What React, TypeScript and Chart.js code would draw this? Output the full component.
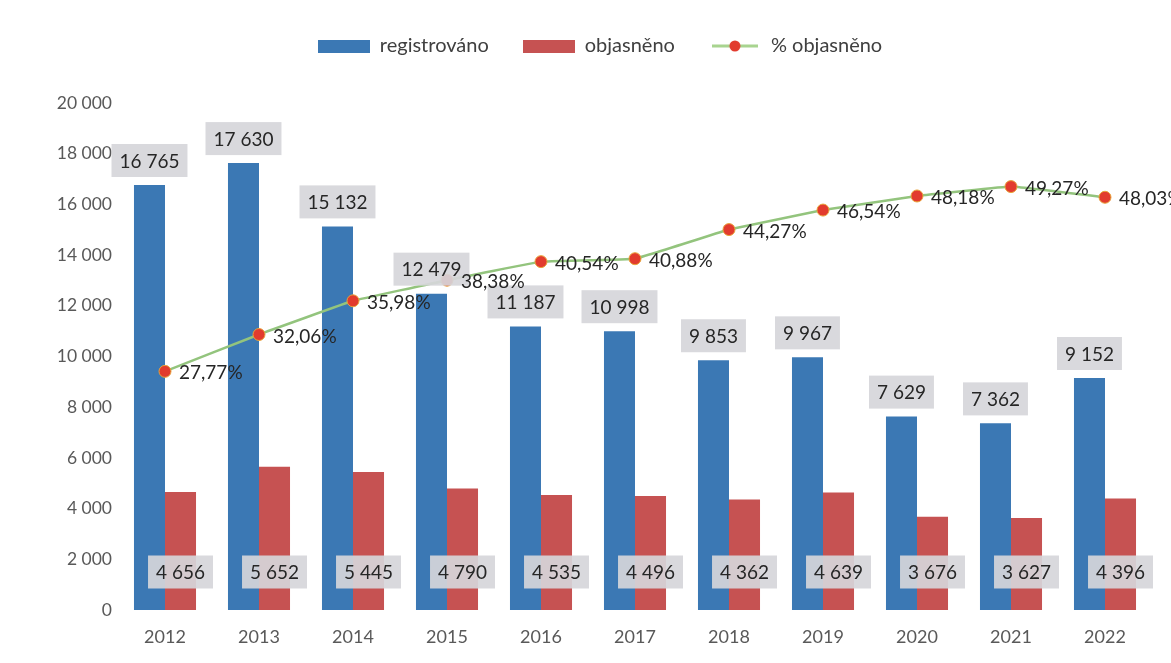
import React, { useEffect, useRef } from "react";
import { Chart, registerables } from "chart.js";

Chart.register(...registerables);

const years = ["2012", "2013", "2014", "2015", "2016", "2017", "2018", "2019", "2020", "2021", "2022"];
const registrovano = [16765, 17630, 15132, 12479, 11187, 10998, 9853, 9967, 7629, 7362, 9152];
const objasneno = [4656, 5652, 5445, 4790, 4535, 4496, 4362, 4639, 3676, 3627, 4396];
const procentoObjasneno = [27.77, 32.06, 35.98, 38.38, 40.54, 40.88, 44.27, 46.54, 48.18, 49.27, 48.03];
const seriesNames = ["registrováno", "objasněno", "% objasněno"];
const yMin = 0;
const yMax = 20000;
const yStep = 2000;
const pctMin = 0;
const pctMax = 59;

const FONT = "Lato, 'Open Sans', sans-serif";
const BLUE = "#3b78b4";
const RED = "#c65252";
const GREEN = "#93c47d";
const DOT = "#e23b2e";
const TEXT = "#262626";
const AXIS_TEXT = "#595959";
const LABEL_BG = "rgba(214,214,218,0.92)";

const fmtNum = (n: number) => String(n).replace(/\B(?=(\d{3})+(?!\d))/g, " ");
const fmtPct = (p: number) => p.toFixed(2).replace(".", ",") + "%";

function makeBox(color: string) {
  const c = document.createElement("canvas");
  c.width = 52;
  c.height = 13;
  const g = c.getContext("2d")!;
  g.fillStyle = color;
  g.fillRect(0, 0, 52, 13);
  return c;
}

function makeLineDot(lineColor: string, dotColor: string) {
  const c = document.createElement("canvas");
  c.width = 46;
  c.height = 14;
  const g = c.getContext("2d")!;
  g.strokeStyle = lineColor;
  g.lineWidth = 3;
  g.beginPath();
  g.moveTo(0, 7);
  g.lineTo(46, 7);
  g.stroke();
  g.fillStyle = dotColor;
  g.beginPath();
  g.arc(23, 7, 5.5, 0, Math.PI * 2);
  g.fill();
  return c;
}

const valueLabels = {
  id: "valueLabels",
  afterDatasetsDraw(chart: any) {
    const ctx = chart.ctx as CanvasRenderingContext2D;
    ctx.save();
    ctx.font = `19px ${FONT}`;
    ctx.textBaseline = "middle";
    const h = 33;
    chart.getDatasetMeta(0).data.forEach((bar: any, i: number) => {
      const text = fmtNum(registrovano[i]);
      const w = ctx.measureText(text).width + 16;
      const bottom = bar.y - 8;
      ctx.fillStyle = LABEL_BG;
      ctx.fillRect(bar.x - w / 2, bottom - h, w, h);
      ctx.fillStyle = TEXT;
      ctx.textAlign = "center";
      ctx.fillText(text, bar.x, bottom - h / 2 + 1);
    });
    chart.getDatasetMeta(1).data.forEach((bar: any, i: number) => {
      const text = fmtNum(objasneno[i]);
      const w = ctx.measureText(text).width + 16;
      const cy = bar.base - 38;
      ctx.fillStyle = LABEL_BG;
      ctx.fillRect(bar.x - w / 2, cy - h / 2, w, h);
      ctx.fillStyle = TEXT;
      ctx.textAlign = "center";
      ctx.fillText(text, bar.x, cy + 1);
    });
    chart.getDatasetMeta(2).data.forEach((pt: any, i: number) => {
      ctx.fillStyle = TEXT;
      ctx.textAlign = "left";
      ctx.fillText(fmtPct(procentoObjasneno[i]), pt.x + 14, pt.y + 2);
    });
    ctx.restore();
  },
};

const legendSpacing = {
  id: "legendSpacing",
  beforeLayout(chart: any) {
    const legend = chart.legend;
    if (!legend || legend._patched) return;
    const orig = legend.fit;
    legend.fit = function () {
      orig.call(this);
      this.height += 37;
    };
    legend._patched = true;
  },
  afterLayout(chart: any) {
    if (chart.legend) chart.legend.left += 48;
  },
};

export default function App() {
  const ref = useRef<HTMLCanvasElement | null>(null);

  useEffect(() => {
    if (!ref.current) return;
    const legendImgs = [makeBox(BLUE), makeBox(RED), makeLineDot("#a8d48f", DOT)];
    const yTicks: number[] = [];
    for (let v = yMin; v <= yMax; v += yStep) yTicks.push(v);

    const chart = new Chart(ref.current, {
      type: "bar",
      data: {
        labels: years,
        datasets: [
          {
            type: "bar",
            label: seriesNames[0],
            data: registrovano,
            backgroundColor: BLUE,
            categoryPercentage: 0.66,
            barPercentage: 1,
            order: 1,
            yAxisID: "y",
          },
          {
            type: "bar",
            label: seriesNames[1],
            data: objasneno,
            backgroundColor: RED,
            categoryPercentage: 0.66,
            barPercentage: 1,
            order: 1,
            yAxisID: "y",
          },
          {
            type: "line",
            label: seriesNames[2],
            data: procentoObjasneno,
            borderColor: GREEN,
            borderWidth: 2.5,
            backgroundColor: DOT,
            pointBackgroundColor: DOT,
            pointBorderColor: "#e8a33a",
            pointBorderWidth: 1,
            pointRadius: 6,
            tension: 0.05,
            order: 0,
            yAxisID: "y2",
          } as any,
        ],
      },
      options: {
        responsive: false,
        animation: false,
        layout: { padding: { top: 2, right: 19, bottom: 0, left: 0 } },
        plugins: {
          tooltip: { enabled: false },
          legend: {
            display: true,
            position: "top",
            labels: {
              usePointStyle: true,
              pointStyleWidth: 52,
              padding: 34,
              color: "#404040",
              font: { family: FONT, size: 20 },
              sort: (a: any, b: any) => a.datasetIndex - b.datasetIndex,
              generateLabels: (ch: any) => {
                const items = (Chart.defaults.plugins.legend.labels as any).generateLabels(ch);
                items.forEach((it: any) => {
                  it.pointStyle = legendImgs[it.datasetIndex];
                });
                return items;
              },
            },
          },
        },
        scales: {
          x: {
            grid: { display: false, drawTicks: false },
            border: { display: false },
            ticks: { color: AXIS_TEXT, font: { family: FONT, size: 18 }, padding: 16 },
            afterFit: (s: any) => {
              s.height = 53;
            },
          },
          y: {
            min: yMin,
            max: yMax,
            grid: { display: false, drawTicks: false },
            border: { display: false },
            afterBuildTicks: (s: any) => {
              s.ticks = yTicks.map((v) => ({ value: v }));
            },
            ticks: {
              color: AXIS_TEXT,
              font: { family: FONT, size: 17.5 },
              padding: 6,
              callback: (v: any) => fmtNum(Number(v)),
            },
            afterFit: (s: any) => {
              s.width = 118;
            },
          },
          y2: {
            display: false,
            min: pctMin,
            max: pctMax,
            position: "right",
          },
        },
      } as any,
      plugins: [valueLabels, legendSpacing],
    });
    return () => chart.destroy();
  }, []);

  return (
    <div style={{ position: "fixed", left: 0, top: 0, width: 1171, height: 663, background: "#fff" }}>
      <canvas ref={ref} width={1171} height={663} style={{ display: "block" }} />
    </div>
  );
}
